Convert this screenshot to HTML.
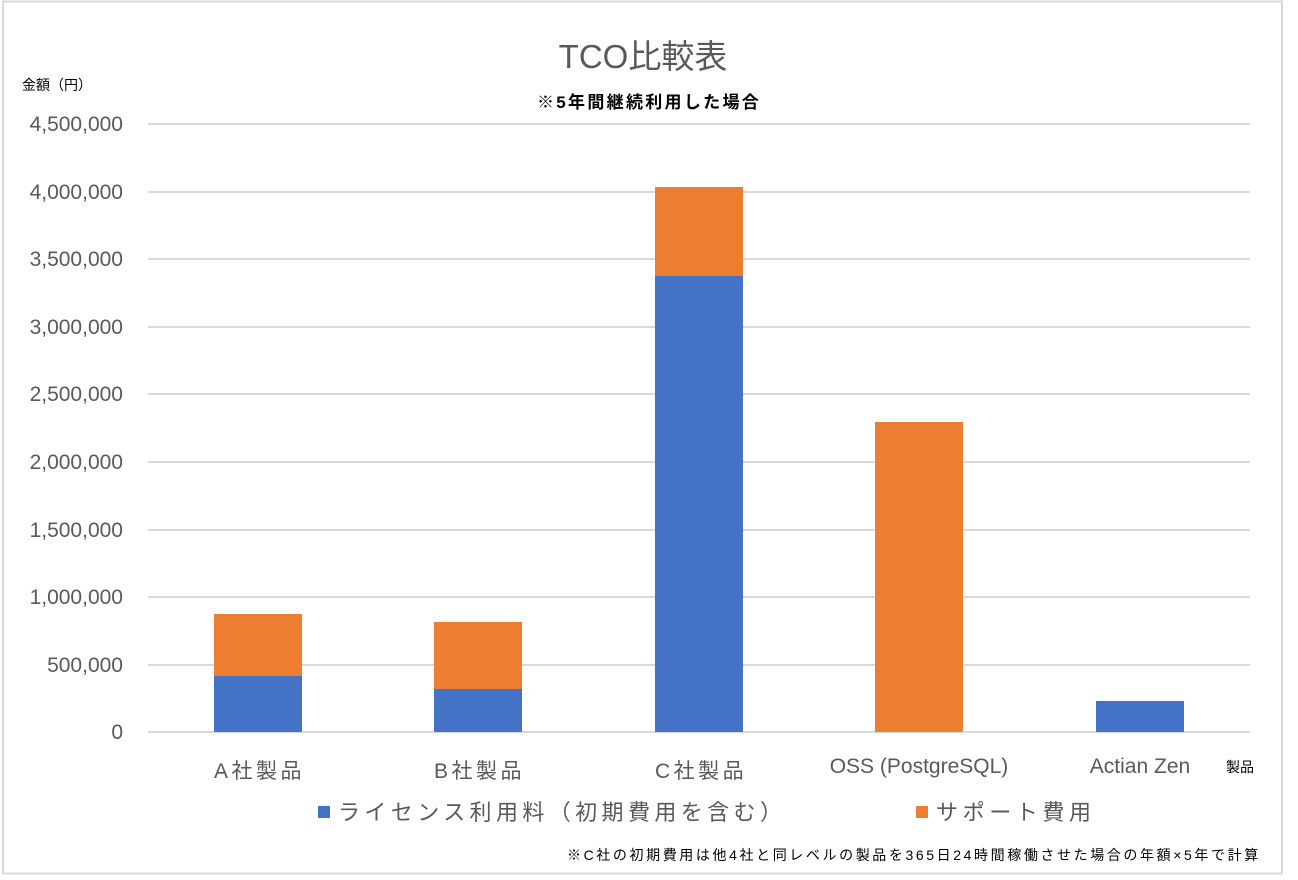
<!DOCTYPE html>
<html><head><meta charset="utf-8"><style>
html,body{margin:0;padding:0;background:#fff;}
svg{display:block;font-family:"Liberation Sans","Noto Sans CJK JP",sans-serif;}
</style></head><body>
<svg width="1298" height="880" viewBox="0 0 1298 880">
<rect x="3" y="1.5" width="1279" height="872" fill="#fff" stroke="#d9d9d9" stroke-width="2"/>
<text x="643" y="68" font-size="33" fill="#595959" text-anchor="middle">TCO比較表</text>
<text x="537" y="108" font-size="17" font-weight="bold" fill="#000" letter-spacing="2.3">※5年間継続利用した場合</text>
<text x="22" y="90" font-size="14" fill="#000">金額（円）</text>
<g stroke="#d9d9d9" stroke-width="2">
<line x1="148" x2="1250" y1="124" y2="124"/><line x1="148" x2="1250" y1="192" y2="192"/>
<line x1="148" x2="1250" y1="259" y2="259"/><line x1="148" x2="1250" y1="327" y2="327"/>
<line x1="148" x2="1250" y1="394" y2="394"/><line x1="148" x2="1250" y1="462" y2="462"/>
<line x1="148" x2="1250" y1="530" y2="530"/><line x1="148" x2="1250" y1="597" y2="597"/>
<line x1="148" x2="1250" y1="665" y2="665"/><line x1="148" x2="1250" y1="732" y2="732"/>
</g>
<g font-size="21" fill="#595959" text-anchor="end">
<text x="123" y="131">4,500,000</text><text x="123" y="199">4,000,000</text>
<text x="123" y="266">3,500,000</text><text x="123" y="334">3,000,000</text>
<text x="123" y="401">2,500,000</text><text x="123" y="469">2,000,000</text>
<text x="123" y="537">1,500,000</text><text x="123" y="604">1,000,000</text>
<text x="123" y="672">500,000</text><text x="123" y="739">0</text>
</g>
<g>
<rect x="214" y="676" width="88" height="56" fill="#4472c4"/><rect x="214" y="614" width="88" height="62" fill="#ed7d31"/>
<rect x="434" y="689" width="88" height="43" fill="#4472c4"/><rect x="434" y="622" width="88" height="67" fill="#ed7d31"/>
<rect x="655" y="276" width="88" height="456" fill="#4472c4"/><rect x="655" y="187" width="88" height="89" fill="#ed7d31"/>
<rect x="875" y="422" width="88" height="310" fill="#ed7d31"/>
<rect x="1096" y="701" width="88" height="31" fill="#4472c4"/>
</g>
<g font-size="21" fill="#595959">
<text x="214" y="778" letter-spacing="3.5">A社製品</text><text x="434" y="778" letter-spacing="3.5">B社製品</text>
<text x="655" y="778" letter-spacing="3.5">C社製品</text>
</g>
<g font-size="21" fill="#595959" text-anchor="middle">
<text x="919" y="773">OSS (PostgreSQL)</text>
<text x="1140" y="773">Actian Zen</text>
</g>
<text x="1226" y="772" font-size="14" fill="#000">製品</text>
<rect x="318" y="806" width="12" height="12" fill="#4472c4"/>
<text x="338" y="820" font-size="22" fill="#595959" letter-spacing="4.4">ライセンス利用料（初期費用を含む）</text>
<rect x="916" y="806" width="12" height="12" fill="#ed7d31"/>
<text x="936" y="820" font-size="22" fill="#595959" letter-spacing="4.6">サポート費用</text>
<text x="567" y="860" font-size="14" fill="#000" letter-spacing="2.6">※C社の初期費用は他4社と同レベルの製品を365日24時間稼働させた場合の年額×5年で計算</text>
</svg>
</body></html>
